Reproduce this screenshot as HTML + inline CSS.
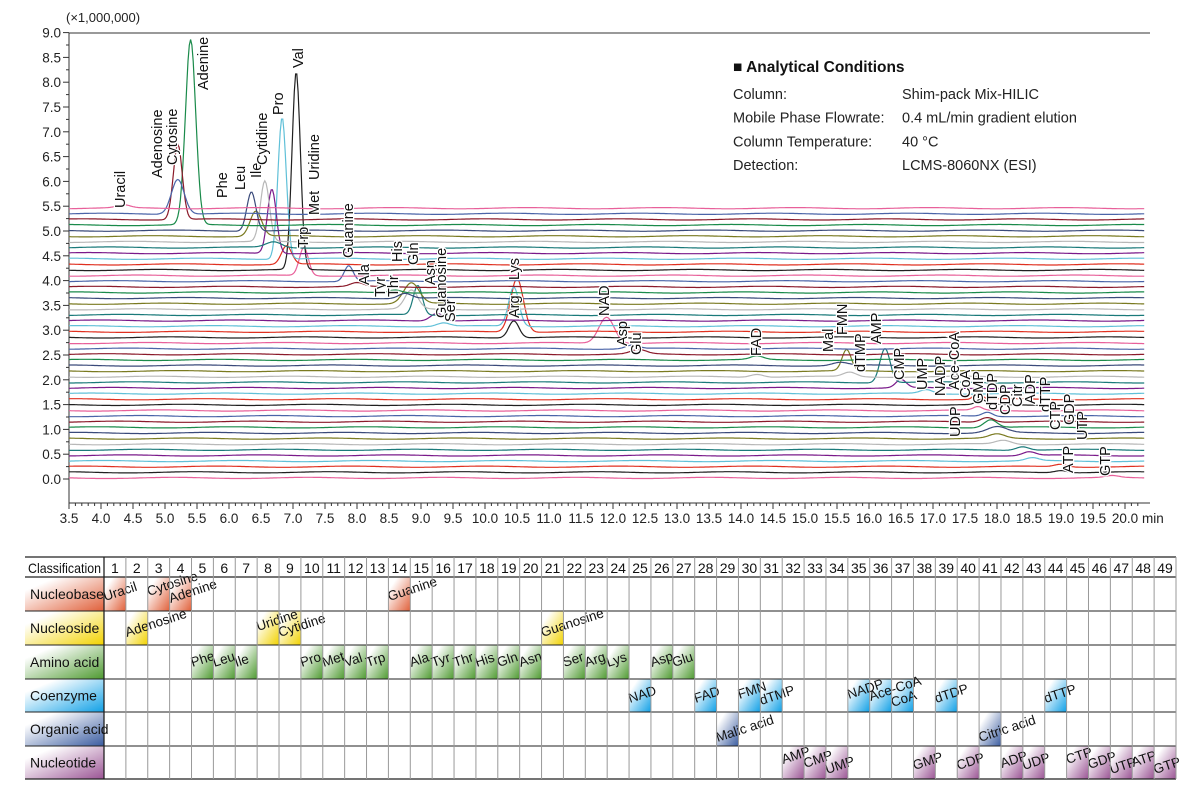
<!DOCTYPE html>
<html><head><meta charset="utf-8"><style>
html,body{margin:0;padding:0;background:#fff;}
svg{display:block;font-family:"Liberation Sans",sans-serif;}
</style></head><body>
<svg id="s" width="1204" height="794" xmlns="http://www.w3.org/2000/svg">
<defs>
<linearGradient id="g0" x1="0" y1="0" x2="1" y2="1"><stop offset="0.2" stop-color="#fff"/><stop offset="1" stop-color="#e0603a"/></linearGradient>
<linearGradient id="g1" x1="0" y1="0" x2="1" y2="1"><stop offset="0.2" stop-color="#fff"/><stop offset="1" stop-color="#f2d200"/></linearGradient>
<linearGradient id="g2" x1="0" y1="0" x2="1" y2="1"><stop offset="0.2" stop-color="#fff"/><stop offset="1" stop-color="#4e9a30"/></linearGradient>
<linearGradient id="g3" x1="0" y1="0" x2="1" y2="1"><stop offset="0.2" stop-color="#fff"/><stop offset="1" stop-color="#10a0e6"/></linearGradient>
<linearGradient id="g4" x1="0" y1="0" x2="1" y2="1"><stop offset="0.2" stop-color="#fff"/><stop offset="1" stop-color="#3a5ca0"/></linearGradient>
<linearGradient id="g5" x1="0" y1="0" x2="1" y2="1"><stop offset="0.2" stop-color="#fff"/><stop offset="1" stop-color="#9a5494"/></linearGradient>
</defs>
<g id="chart"></g>
<g id="tbl"></g>
</svg>
<script>
var NS="http://www.w3.org/2000/svg";
function el(p,t,a,txt){var e=document.createElementNS(NS,t);for(var k in a)e.setAttribute(k,a[k]);if(txt!==undefined)e.textContent=txt;p.appendChild(e);return e;}
var C=document.getElementById('chart');
function X(t){return 69+(t-3.5)*64;}
function Y(v){return 479-v*49.6;}
el(C,'line',{x1:69,y1:33,x2:1150,y2:33,stroke:'#333','stroke-width':1});
el(C,'line',{x1:69,y1:33,x2:69,y2:503,stroke:'#333','stroke-width':1});
el(C,'line',{x1:69,y1:503,x2:1150,y2:503,stroke:'#333','stroke-width':1});
el(C,'text',{x:66,y:22,'font-size':13,fill:'#222'},'(×1,000,000)');
for(var v=0;v<=9.001;v+=0.25){var y=Y(v);var maj=Math.abs(v*2-Math.round(v*2))<1e-6;
 el(C,'line',{x1:maj?63:66,y1:y,x2:69,y2:y,stroke:'#333'});
 if(maj)el(C,'text',{x:61,y:y+5,'font-size':13.5,'text-anchor':'end',fill:'#222'},v.toFixed(1));}
for(var t=3.5;t<=20.3;t+=0.1){var x=X(t);var r=Math.round(t*10);var maj=r%5==0;
 el(C,'line',{x1:x,y1:503,x2:x,y2:maj?509:506,stroke:'#333'});
 if(maj)el(C,'text',{x:x,y:523,'font-size':13.5,'text-anchor':'middle',fill:'#222'},(r/10).toFixed(1));}
el(C,'text',{x:1142,y:523,'font-size':13.5,fill:'#222'},'min');
el(C,'text',{x:733,y:72,'font-size':15.5,'font-weight':'bold',fill:'#111'},'■ Analytical Conditions');
var cond=[['Column:','Shim-pack Mix-HILIC'],['Mobile Phase Flowrate:','0.4 mL/min gradient elution'],['Column Temperature:','40 °C'],['Detection:','LCMS-8060NX (ESI)']];
cond.forEach(function(c,i){el(C,'text',{x:733,y:99+i*23.7,'font-size':14.5,fill:'#222'},c[0]);el(C,'text',{x:902,y:99+i*23.7,'font-size':14.5,fill:'#222'},c[1]);});
var cols=['#e8609a','#4a64a8','#8b1a2a','#1a8a4a','#3a4a7a','#7a7a20','#b8b8b8','#1a7a7a','#7a1a8a','#60c0d8','#e03020','#202020'];
function base(i){return 5.46-(i-1)*0.1133;}
var P=[[1,4.35,5.52,0.1],[2,5.2,6.05,0.1],[3,5.2,6.75,0.07],[4,5.4,8.85,0.08],[5,6.35,5.8,0.07],[6,6.42,5.4,0.09],[7,6.56,6.0,0.07],[8,6.7,4.78,0.12],[9,6.67,5.85,0.07],[10,6.83,7.3,0.065],[11,6.9,4.7,0.08],[12,7.05,8.2,0.065],[13,7.17,4.67,0.07],[14,7.87,4.3,0.07],[15,8.0,3.95,0.1],[16,8.6,3.82,0.1],[17,8.75,3.75,0.1],[18,8.85,3.95,0.12],[19,8.85,3.8,0.1],[20,8.95,3.9,0.07],[21,9.25,3.35,0.1],[22,9.35,3.15,0.1],[23,10.5,4.05,0.1],[24,10.45,3.2,0.08],[22,10.45,3.87,0.08],[25,11.9,3.27,0.12],[26,12.3,2.7,0.1],[27,12.4,2.6,0.12],[28,14.25,2.47,0.1],[31,14.25,2.12,0.1],[29,15.55,2.35,0.12],[30,15.65,2.6,0.07],[31,15.7,2.15,0.1],[32,16.25,2.64,0.08],[33,16.5,2.0,0.08],[34,16.9,1.8,0.1],[35,17.7,1.75,0.06],[36,17.75,1.6,0.07],[37,17.7,1.45,0.07],[38,17.85,1.35,0.08],[39,17.85,1.25,0.1],[40,17.9,1.2,0.1],[41,18.0,1.05,0.15],[42,18.0,0.9,0.12],[43,18.1,0.78,0.12],[44,18.4,0.66,0.1],[45,18.5,0.55,0.1],[46,18.55,0.42,0.1],[47,19.0,0.3,0.1],[48,19.0,0.18,0.1],[49,19.8,0.06,0.1]];
for(var i=49;i>=1;i--){var b=base(i);var pk=P.filter(function(p){return p[0]==i;});
 var d='';for(var t=3.5;t<=20.3;t+=0.02){var v=b+0.012*Math.sin(t*3+i);
  pk.forEach(function(p){var h=Math.max(p[2]-b,0.03);v+=h*Math.exp(-Math.pow((t-p[1])/p[3],2)/2);});
  d+=(d?'L':'M')+X(t).toFixed(1)+' '+Y(v).toFixed(1);}
 el(C,'path',{d:d,fill:'none',stroke:cols[(i-1)%12],'stroke-width':1.2});}
var L=[['Uracil',120,208],['Adenosine',157,178],['Cytosine',172,165],['Adenine',203,90],['Phe',222,198],['Leu',240,190],['Ile',256,178],['Cytidine',262,165],['Pro',278,115],['Val',298,68],['Uridine',314,180],['Met',314,215],['Trp',303,248],['Guanine',348,258],['Ala',364,285],['Tyr',380,297],['Thr',393,297],['His',397,262],['Gln',413,265],['Asn',430,285],['Guanosine',441,318],['Ser',450,322],['Lys',514,280],['Arg',514,318],['NAD',604,316],['Asp',622,346],['Glu',636,355],['FAD',756,356],['Mal',828,352],['FMN',842,335],['dTMP',860,372],['AMP',876,344],['CMP',899,380],['UMP',922,390],['NADP',940,396],['Ace-CoA',954,390],['CoA',965,398],['GMP',978,404],['dTDP',992,410],['CDP',1005,415],['UDP',955,437],['Citr',1017,407],['ADP',1030,404],['dTTP',1045,412],['CTP',1055,430],['GDP',1069,425],['UTP',1082,440],['ATP',1068,473],['GTP',1105,476]];
L.forEach(function(l){var x=l[1]+5,y=l[2];
 el(C,'text',{x:x,y:y,'font-size':14.5,fill:'#111',stroke:'#fff','stroke-width':2.5,'paint-order':'stroke',transform:'rotate(-90 '+x+' '+y+')'},l[0]);});
var T=document.getElementById('tbl');
var x0=104,cw=1072/49,rows=[557,577,611,645,679,712,746,779];
var names=['Nucleobase','Nucleoside','Amino acid','Coenzyme','Organic acid','Nucleotide'];
names.forEach(function(n,r){el(T,'rect',{x:25,y:rows[r+1],width:79,height:rows[r+2]-rows[r+1],fill:'url(#g'+r+')'});});
var items=[[0,1,'Uracil',0],[0,3,'Cytosine',-5],[0,4,'Adenine',2],[0,14,'Guanine',0],
[1,2,'Adenosine',2],[1,8,'Uridine',-4],[1,9,'Cytidine',2],[1,21,'Guanosine',2],
[3,25,'NAD',0],[3,28,'FAD',0],[3,30,'FMN',-4],[3,31,'dTMP',2],[3,35,'NADP',-4],[3,36,'Ace-CoA',-2],[3,37,'CoA',4],[3,39,'dTDP',0],[3,44,'dTTP',0],
[4,29,'Malic acid',6],[4,41,'Citric acid',6]];
['Phe','Leu','Ile',null,null,'Pro','Met','Val','Trp',null,'Ala','Tyr','Thr','His','Gln','Asn',null,'Ser','Arg','Lys',null,'Asp','Glu'].forEach(function(n,k){if(n)items.push([2,5+k,n,-2]);});
[[32,'AMP',-6],[33,'CMP',-2],[34,'UMP',4],[38,'GMP',0],[40,'CDP',0],[42,'ADP',-2],[43,'UDP',0],[45,'CTP',-6],[46,'GDP',-1],[47,'UTP',4],[48,'ATP',-3],[49,'GTP',4]].forEach(function(a){items.push([5,a[0],a[1],a[2]]);});
items.forEach(function(it){var r=it[0],c=it[1];var cx=x0+(c-1)*cw,ry=rows[r+1];
 el(T,'rect',{x:cx,y:ry,width:cw,height:rows[r+2]-ry,fill:'url(#g'+r+')'});});
items.forEach(function(it){var r=it[0],c=it[1];var cx=x0+(c-1)*cw+1,by=rows[r+1]+24+it[3];
 el(T,'text',{x:cx,y:by,'font-size':13.5,fill:'#111',transform:'rotate(-18 '+cx+' '+by+')'},it[2]);});
rows.forEach(function(y,k){el(T,'line',{x1:25,y1:y,x2:1176,y2:y,stroke:'#222','stroke-width':(k==0||k==1||k==7)?1.3:1});});
for(var c=0;c<=49;c++){var x=x0+c*cw;el(T,'line',{x1:x,y1:557,x2:x,y2:779,stroke:c==0?'#222':'#999','stroke-width':c==0?1.3:1});}
el(T,'text',{x:28,y:573,'font-size':14,fill:'#111',textLength:73,lengthAdjust:'spacingAndGlyphs'},'Classification');
for(var c=1;c<=49;c++)el(T,'text',{x:x0+(c-0.5)*cw,y:573,'font-size':14,'text-anchor':'middle',fill:'#111'},c);
names.forEach(function(n,r){el(T,'text',{x:30,y:(rows[r+1]+rows[r+2])/2+5,'font-size':14,fill:'#111'},n);});
</script>
</body></html>
